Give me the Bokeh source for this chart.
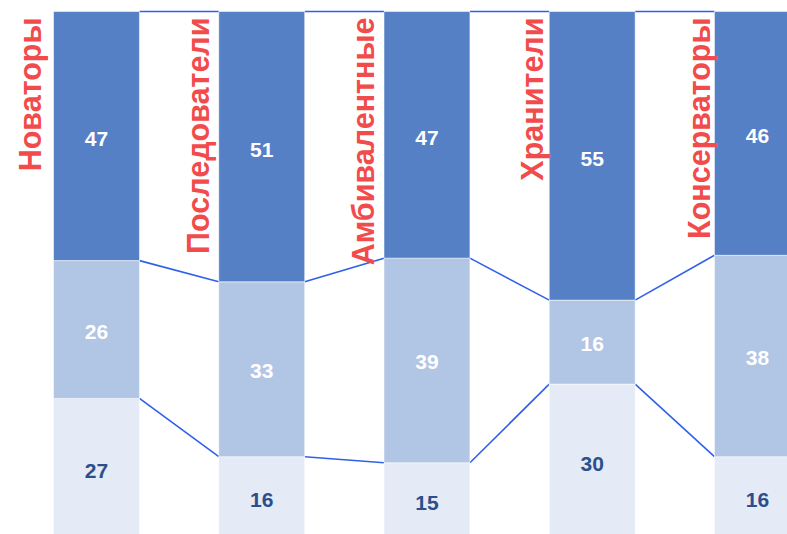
import numpy as np
from bokeh.plotting import figure
from bokeh.models import ColumnDataSource, Range1d
from bokeh.core.properties import value
from bokeh.embed import file_html
from bokeh.resources import INLINE

categories = ["Новаторы", "Последователи", "Амбивалентные", "Хранители", "Консерваторы"]
top_vals = [47, 51, 47, 55, 46]
mid_vals = [26, 33, 39, 16, 38]
low_vals = [27, 16, 15, 30, 16]

# style: fine horizontal nudges (px) of the rotated category labels
label_nudge = [-3, 0, 0, 3, 5]

c_top, c_mid, c_low = "#5680c6", "#b1c5e5", "#e4eaf6"
c_line = "#2f60ea"
c_label = "#f24b4b"
FONT = "Liberation Sans"

n = len(categories)
xs = np.arange(n, dtype=float)
tv, mv, lv = np.array(top_vals, float), np.array(mid_vals, float), np.array(low_vals, float)
tot = tv + mv + lv
low = lv / tot * 100
mid = mv / tot * 100
b1 = low
b2 = low + mid
W = 0.52

p = figure(width=787, height=534, output_backend="svg", toolbar_location=None,
           x_range=Range1d(-0.581, 4.182), y_range=Range1d(1.32, 102.08),
           x_axis_location=None, y_axis_location=None, min_border=0)
p.grid.visible = False
p.outline_line_color = None
p.background_fill_color = "white"

# connectors
for lvl in [np.full(n, 100.0), b2, b1]:
    p.segment(x0=xs[:-1] + W / 2, y0=lvl[:-1], x1=xs[1:] - W / 2, y1=lvl[1:],
              line_color=c_line, line_width=1.6)

src = ColumnDataSource(dict(x=xs, b0=np.zeros(n), b1=b1, b2=b2, t=np.full(n, 100.0),
                            ylow=b1 / 2, ymid=(b1 + b2) / 2, ytop=(b2 + 100) / 2,
                            slow=[str(v) for v in low_vals], smid=[str(v) for v in mid_vals],
                            stop=[str(v) for v in top_vals]))
p.vbar(x="x", bottom="b0", top="b1", width=W, source=src, fill_color=c_low,
       line_color="white", line_alpha=0.5, line_width=1)
p.vbar(x="x", bottom="b1", top="b2", width=W, source=src, fill_color=c_mid,
       line_color="white", line_alpha=0.5, line_width=1)
p.vbar(x="x", bottom="b2", top="t", width=W, source=src, fill_color=c_top,
       line_color="white", line_alpha=0.5, line_width=1)

common = dict(text_align="center", text_baseline="middle", text_font=value(FONT),
              text_font_style="bold", text_font_size="21px", source=src)
p.text(x="x", y="ylow", text="slow", text_color="#2c4f8c", y_offset=1, **common)
p.text(x="x", y="ymid", text="smid", text_color="white", y_offset=2, **common)
p.text(x="x", y="ytop", text="stop", text_color="white", y_offset=3, **common)

src2 = ColumnDataSource(dict(x=xs - 0.385, y=np.full(n, 100.0), cat=categories,
                             dx=label_nudge))
p.text(x="x", y="y", text="cat", source=src2, angle=np.pi / 2, text_align="right",
       text_baseline="middle", text_font=value(FONT), text_font_style="bold",
       text_font_size="30.5px", text_color=c_label, x_offset="dx", y_offset=6)

open("out.html", "w").write(file_html(p, INLINE))
